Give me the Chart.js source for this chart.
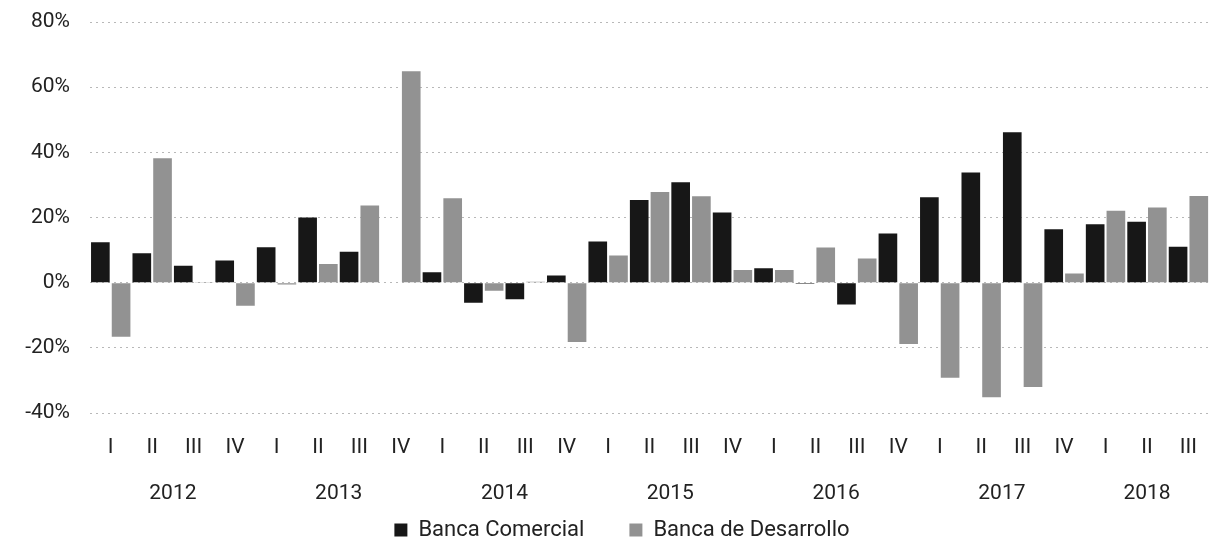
<!DOCTYPE html>
<html>
<head>
<meta charset="utf-8">
<script src="https://cdn.jsdelivr.net/npm/chart.js@4/dist/chart.umd.min.js"></script>
<style>
  html, body { margin: 0; padding: 0; background: #fff; }
  #wrap { width: 1219px; height: 544px; position: relative; }
</style>
</head>
<body>
<div id="wrap"><canvas id="c" width="1219" height="544"></canvas></div>
<script>
// ---- data ----
const years = ['2012', '2013', '2014', '2015', '2016', '2017', '2018'];
const quarterNames = ['I', 'II', 'III', 'IV'];
const quartersPerYear = [4, 4, 4, 4, 4, 4, 3];
const seriesNames = ['Banca Comercial', 'Banca de Desarrollo'];
const bancaComercial = [12.4, 9.0, 5.2, 6.8, 10.9, 20.0, 9.5, 0, 3.2, -6.2, -5.1, 2.2, 12.6, 25.4, 30.8, 21.5, 4.4, -0.3, -6.7, 15.1, 26.2, 33.8, 46.2, 16.4, 17.9, 18.7, 11.0];
const bancaDesarrollo = [-16.6, 38.2, 0.2, -7.1, -0.6, 5.7, 23.7, 64.9, 25.9, -2.5, 0.3, -18.2, 8.3, 27.8, 26.5, 3.9, 3.9, 10.8, 7.4, -18.8, -29.2, -35.2, -32.0, 2.8, 22.1, 23.1, 26.6];
const yTicks = [-40, -20, 0, 20, 40, 60, 80];

// categories built from the year / quarter lists
const labels = [];
const labelYear = [];
years.forEach((y, yi) => {
  for (let q = 0; q < quartersPerYear[yi]; q++) { labels.push(quarterNames[q]); labelYear.push(yi); }
});

const FONT = "Roboto, 'Open Sans', sans-serif";
const TXT = '#222222';

const yearLabelsPlugin = {
  id: 'yearLabels',
  afterDraw(chart) {
    const xs = chart.scales.x;
    const ctx = chart.ctx;
    ctx.save();
    ctx.font = '21px ' + FONT;
    ctx.fillStyle = TXT;
    ctx.textAlign = 'center';
    ctx.textBaseline = 'middle';
    years.forEach((y, yi) => {
      const idx = labelYear.map((v, i) => v === yi ? i : -1).filter(i => i >= 0);
      const x0 = xs.getPixelForValue(idx[0]);
      const x1 = xs.getPixelForValue(idx[idx.length - 1]);
      ctx.fillText(y, (x0 + x1) / 2, chart.chartArea.bottom + 81);
    });
    ctx.restore();
  }
};

new Chart(document.getElementById('c'), {
  type: 'bar',
  data: {
    labels: labels,
    datasets: [
      { label: seriesNames[0], data: bancaComercial, backgroundColor: '#171717' },
      { label: seriesNames[1], data: bancaDesarrollo, backgroundColor: '#929292' }
    ]
  },
  options: {
    responsive: false,
    animation: false,
    layout: { padding: { top: 22, left: 25, right: 0, bottom: -7 } },
    datasets: { bar: { categoryPercentage: 1.0, barPercentage: 0.9 } },
    scales: {
      x: {
        grid: { display: false, drawTicks: false },
        border: { display: false },
        ticks: { color: TXT, font: { family: FONT, size: 21 }, padding: 22, maxRotation: 0, autoSkip: false },
        afterFit: s => { s.height = 61; }
      },
      y: {
        min: -40, max: 80,
        afterBuildTicks: s => { s.ticks = yTicks.map(v => ({ value: v })); },
        grid: { color: '#b8b8b8', lineWidth: 1, drawTicks: true, tickLength: 20, tickColor: 'rgba(0,0,0,0)' },
        border: { display: false, dash: [2, 4] },
        ticks: { color: TXT, font: { family: FONT, size: 21 }, padding: 0, callback: v => v + '%' },
        afterFit: s => { s.width = 65; }
      }
    },
    plugins: {
      legend: {
        position: 'bottom',
        labels: { color: TXT, font: { family: FONT, size: 22 }, boxWidth: 13, boxHeight: 13, padding: 45 }
      },
      tooltip: { enabled: false }
    }
  },
  plugins: [yearLabelsPlugin]
});
</script>
</body>
</html>
